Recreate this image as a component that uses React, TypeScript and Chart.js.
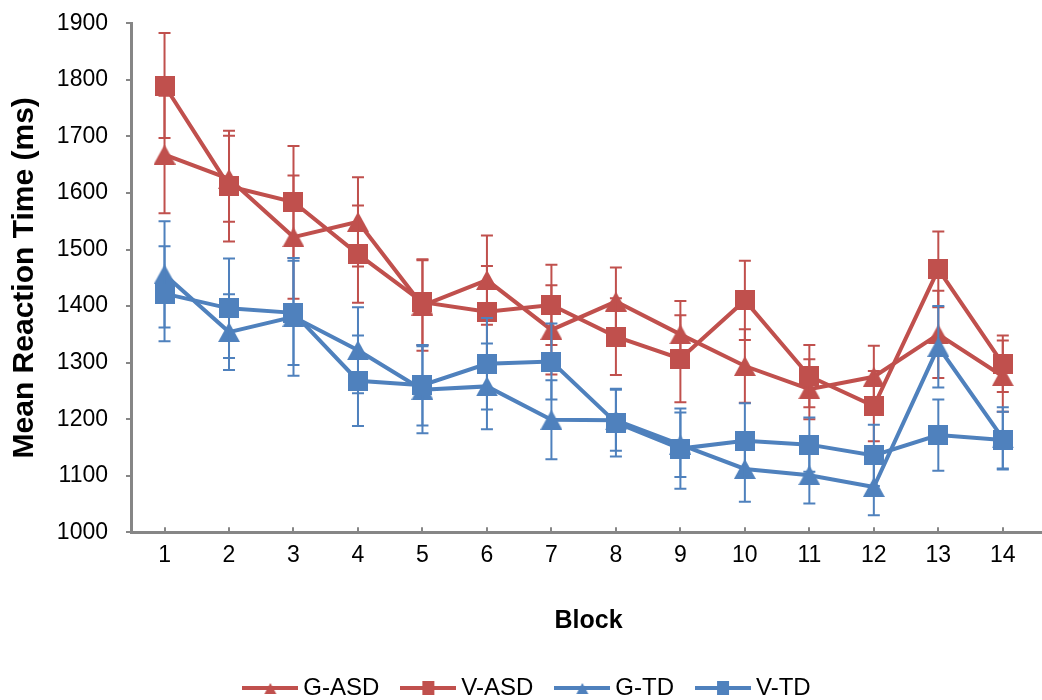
import React, { useEffect, useRef } from "react";
import { Chart, registerables } from "chart.js";

Chart.register(...registerables);

// ---- data ----
const blocks = [1, 2, 3, 4, 5, 6, 7, 8, 9, 10, 11, 12, 13, 14];
const seriesNames = ["G-ASD", "V-ASD", "G-TD", "V-TD"];

const gAsd = [1668, 1625, 1522, 1549, 1401, 1446, 1358, 1408, 1350, 1294, 1253, 1275, 1350, 1276];
const gAsdErr = [104, 76, 109, 79, 80, 79, 79, 60, 59, 65, 53, 55, 77, 63];

const vAsd = [1790, 1612, 1584, 1492, 1407, 1390, 1402, 1346, 1307, 1410, 1276, 1223, 1465, 1298];
const vAsdErr = [93, 98, 99, 86, 76, 81, 71, 68, 77, 70, 55, 62, 67, 50];

const gTd = [1456, 1354, 1381, 1322, 1252, 1258, 1199, 1198, 1155, 1112, 1101, 1080, 1328, 1166];
const gTdErr = [94, 67, 104, 76, 77, 76, 70, 54, 57, 58, 50, 50, 72, 55];

const vTd = [1422, 1396, 1388, 1268, 1260, 1298, 1302, 1194, 1148, 1162, 1155, 1136, 1172, 1163];
const vTdErr = [84, 88, 92, 80, 71, 81, 67, 60, 71, 66, 48, 54, 63, 50];

const yTicks = [1000, 1100, 1200, 1300, 1400, 1500, 1600, 1700, 1800, 1900];

const RED = "#C0504D";
const BLUE = "#4F81BD";
const AXIS = "#868686";
const FONT = '"Liberation Sans", Arial, sans-serif';

function makeMarker(shape: string, color: string, w: number, h: number) {
  const c = document.createElement("canvas");
  c.width = w;
  c.height = h;
  const ctx = c.getContext("2d")!;
  ctx.fillStyle = color;
  if (shape === "triangle") {
    ctx.beginPath();
    ctx.moveTo(0, h);
    ctx.lineTo(w / 2, 0);
    ctx.lineTo(w, h);
    ctx.closePath();
    ctx.fill();
  } else {
    ctx.fillRect(0, 0, w, h);
  }
  return c;
}

function makeLegendIcon(shape: string, color: string) {
  const w = 56;
  const h = 24;
  const c = document.createElement("canvas");
  c.width = w;
  c.height = h;
  const ctx = c.getContext("2d")!;
  ctx.strokeStyle = color;
  ctx.lineWidth = 4;
  ctx.beginPath();
  ctx.moveTo(0, h / 2);
  ctx.lineTo(w, h / 2);
  ctx.stroke();
  ctx.fillStyle = color;
  if (shape === "triangle") {
    ctx.beginPath();
    ctx.moveTo(w / 2 - 6, h / 2 + 6);
    ctx.lineTo(w / 2, h / 2 - 5);
    ctx.lineTo(w / 2 + 6, h / 2 + 6);
    ctx.closePath();
    ctx.fill();
  } else {
    ctx.fillRect(w / 2 - 6, h / 2 - 7, 12, 14);
  }
  return c;
}

const errorBarPlugin = {
  id: "errorBars",
  beforeDatasetDraw(chart: any, args: any) {
    const ds = chart.data.datasets[args.index];
    const errs: number[] = ds.errors;
    if (!errs) return;
    const ctx = chart.ctx;
    const xs = chart.scales.x;
    const ys = chart.scales.y;
    ctx.save();
    ctx.strokeStyle = ds.borderColor;
    ctx.lineWidth = 2;
    ds.data.forEach((p: any, i: number) => {
      const x = xs.getPixelForValue(p.x);
      const y1 = ys.getPixelForValue(p.y + errs[i]);
      const y2 = ys.getPixelForValue(p.y - errs[i]);
      ctx.beginPath();
      ctx.moveTo(x, y1);
      ctx.lineTo(x, y2);
      ctx.moveTo(x - 6, y1);
      ctx.lineTo(x + 6, y1);
      ctx.moveTo(x - 6, y2);
      ctx.lineTo(x + 6, y2);
      ctx.stroke();
    });
    ctx.restore();
  },
};

export default function App() {
  const canvasRef = useRef<HTMLCanvasElement | null>(null);

  useEffect(() => {
    if (!canvasRef.current) return;
    const values = [gAsd, vAsd, gTd, vTd];
    const errors = [gAsdErr, vAsdErr, gTdErr, vTdErr];
    const colors = [RED, RED, BLUE, BLUE];
    const shapes = ["triangle", "rect", "triangle", "rect"];
    const orders = [4, 3, 2, 1];
    const markers = shapes.map((s, i) =>
      s === "triangle" ? makeMarker(s, colors[i], 22, 20) : makeMarker(s, colors[i], 20, 20)
    );
    const legendIcons = shapes.map((s, i) => makeLegendIcon(s, colors[i]));

    const datasets = seriesNames.map((name, si) => ({
      label: name,
      data: blocks.map((b, i) => ({ x: b, y: values[si][i] })),
      errors: errors[si],
      borderColor: colors[si],
      backgroundColor: colors[si],
      borderWidth: 4,
      pointStyle: markers[si],
      pointRadius: 10,
      pointHoverRadius: 10,
      tension: 0,
      fill: false,
      order: orders[si],
    }));

    const chart = new Chart(canvasRef.current, {
      type: "line",
      data: { datasets } as any,
      plugins: [errorBarPlugin],
      options: {
        animation: false,
        responsive: false,
        devicePixelRatio: 1,
        layout: { padding: { top: 23.3, left: 0, right: 0, bottom: 0 } },
        plugins: {
          tooltip: { enabled: false },
          legend: {
            position: "bottom",
            labels: {
              usePointStyle: true,
              pointStyleWidth: 42,
              padding: 28,
              color: "#000",
              font: { family: FONT, size: 24 },
              generateLabels: (ch: any) =>
                ch.data.datasets.map((ds: any, i: number) => ({
                  text: ds.label,
                  fillStyle: ds.borderColor,
                  strokeStyle: ds.borderColor,
                  lineWidth: 0,
                  pointStyle: legendIcons[i],
                  hidden: false,
                  datasetIndex: i,
                  fontColor: "#000",
                })),
            },
          },
        },
        scales: {
          x: {
            type: "linear",
            min: 0.48,
            max: 14.67,
            afterBuildTicks: (axis: any) => {
              axis.ticks = blocks.map((v) => ({ value: v }));
            },
            afterFit: (scale: any) => {
              scale.height = 115.7;
            },
            ticks: {
              color: "#000",
              font: { family: FONT, size: 23 },
              padding: 15,
              callback: (v: any) => String(v),
            },
            grid: {
              display: true,
              drawOnChartArea: false,
              drawTicks: true,
              tickLength: -5,
              color: AXIS,
              lineWidth: 2,
            },
            border: { display: true, color: AXIS, width: 3 },
            title: {
              display: true,
              text: "Block",
              color: "#000",
              font: { family: FONT, size: 25, weight: "bold" },
              padding: { top: 0, bottom: 12 },
            },
          },
          y: {
            type: "linear",
            min: 1000,
            max: 1900,
            afterBuildTicks: (axis: any) => {
              axis.ticks = yTicks.map((v) => ({ value: v }));
            },
            afterFit: (scale: any) => {
              scale.width = 131;
            },
            ticks: {
              color: "#000",
              font: { family: FONT, size: 23, lineHeight: 0.46 },
              padding: 18,
              callback: (v: any) => String(v),
            },
            grid: {
              display: true,
              drawOnChartArea: false,
              drawTicks: true,
              tickLength: 5,
              color: AXIS,
              lineWidth: 2,
            },
            border: { display: true, color: AXIS, width: 3 },
            title: {
              display: true,
              text: "Mean Reaction Time (ms)",
              color: "#000",
              font: { family: FONT, size: 30, weight: "bold" },
              padding: { top: 7, bottom: 0 },
            },
          },
        },
      } as any,
    });
    return () => chart.destroy();
  }, []);

  return (
    <div
      style={{
        position: "fixed",
        left: 0,
        top: 0,
        width: 1042,
        height: 700,
        overflow: "hidden",
        background: "#fff",
      }}
    >
      <canvas ref={canvasRef} width={1060} height={710} style={{ display: "block" }} />
    </div>
  );
}
